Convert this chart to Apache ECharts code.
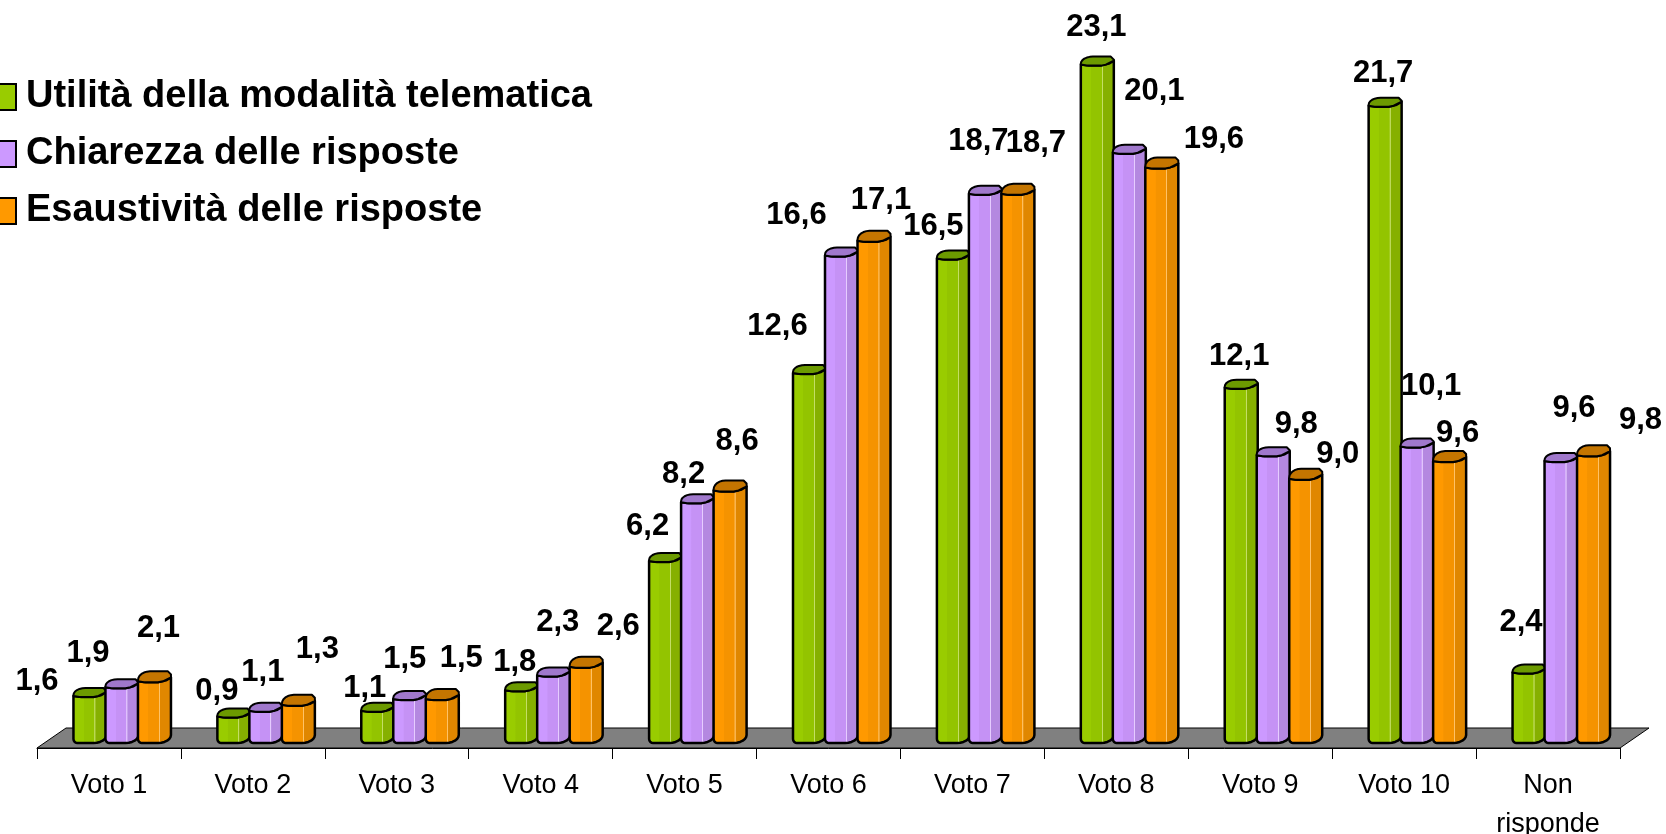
<!DOCTYPE html>
<html><head><meta charset="utf-8">
<style>html,body{margin:0;padding:0;background:#fff}#c{width:1666px;height:834px}</style>
<script src="https://cdn.jsdelivr.net/npm/echarts@6/dist/echarts.min.js"></script>
</head><body><div id="c"></div>
<script>
const categories = ['Voto 1','Voto 2','Voto 3','Voto 4','Voto 5','Voto 6','Voto 7','Voto 8','Voto 9','Voto 10','Non\nrisponde'];
const seriesNames = ['Utilità della modalità telematica','Chiarezza delle risposte','Esaustività delle risposte'];
const utilita    = [1.6,0.9,1.1,1.8,6.2,12.6,16.5,23.1,12.1,21.7,2.4];
const chiarezza  = [1.9,1.1,1.5,2.3,8.2,16.6,18.7,20.1,9.8,10.1,9.6];
const esaustivita= [2.1,1.3,1.5,2.6,8.6,17.1,18.7,19.6,9.0,9.6,9.8];

// label displacement from bar top (pixels), one table per series
const utilitaLabelOffset = [[-53,-15],[-17,-25],[-13,-22],[-7,-28],[-18,-34],[-32,-47],[-20,-32],[-1,-37],[-2,-31],[-2,-32],[-8,-50]];
const chiarezzaLabelOffset = [[-34,-34],[-3,-38],[-5,-40],[4,-53],[-14,-28],[-45,-40],[-7,-52],[25,-61],[23,-31],[14,-60],[13,-53]];
const esaustivitaLabelOffset = [[4,-53],[19,-55],[19,-41],[32,-40],[7,-49],[7,-40],[18,-50],[52,-28],[32,-24],[8,-28],[47,-35]];

const palettes = [
  {base:'#99CC00', mid:'#93C400', light:'#C4DE66', side:'#86B000', top:'#6C9A00'},
  {base:'#CC99FF', mid:'#C592F5', light:'#E6CCFF', side:'#B488E0', top:'#A078CC'},
  {base:'#FF9900', mid:'#F59300', light:'#FFC266', side:'#E08700', top:'#C47500'}
];
const barOffsets = [-19, 13, 45.5];
const barW = 33;
const capHeights = [8, 8, 10];
const floorDepthY = 20, floorDepthX = 29, floorBase = -0.17;

function arc(cx, cy, rx, ry, a0, a1, n){
  const p=[]; for(let i=0;i<=n;i++){const a=(a0+(a1-a0)*i/n)*Math.PI/180; p.push([cx+rx*Math.cos(a), cy+ry*Math.sin(a)]);} return p;
}
function barRender(si, offsets){
  return function(params, api){
    const i = api.value(0), v = api.value(1);
    const top = api.coord([i, v]), bot = api.coord([i, 0]);
    const cx = top[0] + barOffsets[si];
    const x0 = cx - barW/2, x1 = cx + barW/2, yt = top[1], yb = bot[1];
    const pal = palettes[si], h = capHeights[si];
    const body = [[x0,yt]].concat(
      [[x0,yb-4]],
      arc(x0+4,yb-4,4,4,180,90,4),
      [[x1-13,yb]],
      arc(x1-13,yb-8,13,8,90,0,6),
      [[x1,yt-4]],
      [[x1-5,yt-1]],
      [[x1-13,yt+1]],
      [[x0+8,yt+1]]
    );
    const cap = [[x0,yt]].concat(
      arc(x0+12,yt-1,12,h-1,180,270,6),
      [[x1-3,yt-h]],
      [[x1,yt-h+3]],
      [[x1,yt-4]],
      [[x1-8,yt]],
      [[x1-13,yt+1]],
      [[x0+6,yt+1]]
    );
    const grad = new echarts.graphic.LinearGradient(0,0,1,0,[
      {offset:0,color:pal.base},{offset:0.32,color:pal.base},{offset:0.33,color:pal.mid},
      {offset:0.62,color:pal.mid},{offset:0.63,color:pal.light},{offset:0.65,color:pal.light},
      {offset:0.66,color:pal.side},{offset:1,color:pal.side}
    ]);
    const off = offsets[params.dataIndex];
    return {type:'group', children:[
      {type:'polygon', shape:{points:body}, style:{fill:grad, stroke:'#000', lineWidth:2.5, lineJoin:'round'}},
      {type:'polygon', shape:{points:cap}, style:{fill:pal.top, stroke:'#000', lineWidth:2, lineJoin:'round'}},
      {type:'text', z2:10, style:{
        text:v.toFixed(1).replace('.',','), x:cx+off[0], y:yt+off[1],
        align:'center', verticalAlign:'middle',
        font:'bold 31px "Liberation Sans", Arial, sans-serif', fill:'#000'
      }}
    ]};
  };
}
function floorRender(params, api){
  const band = api.size([1,0])[0];
  const a = api.coord([0, floorBase]), b = api.coord([categories.length-1, floorBase]);
  const xl = a[0]-band/2, xr = b[0]+band/2, y = a[1];
  return {type:'polygon', silent:true, shape:{points:[[xl,y],[xl+floorDepthX,y-floorDepthY],[xr+floorDepthX,y-floorDepthY],[xr,y]]},
    style:{fill:'#808080', stroke:'#000', lineWidth:1}};
}
const valueTables=[utilita,chiarezza,esaustivita], offsetTables=[utilitaLabelOffset,chiarezzaLabelOffset,esaustivitaLabelOffset];
const chart = echarts.init(document.getElementById('c'), null, {renderer:'canvas'});
chart.setOption({
  animation:false, backgroundColor:'#fff',
  legend:{
    left:-12, top:78, orient:'vertical', icon:'rect', itemWidth:27, itemHeight:26, itemGap:19, padding:0, selectedMode:false,
    data:seriesNames, textStyle:{fontFamily:'"Liberation Sans", Arial, sans-serif', fontWeight:'bold', fontSize:38, color:'#000', padding:[0,0,0,5]}
  },
  grid:{left:37, right:46, top:0, bottom:86, outerBoundsMode:'none'},
  xAxis:{type:'category', data:categories, boundaryGap:true,
    axisLine:{onZero:false, lineStyle:{color:'#000',width:1}},
    axisTick:{show:true, length:11, lineStyle:{color:'#000'}},
    axisLabel:{margin:18, interval:0, fontFamily:'"Liberation Sans", Arial, sans-serif', fontSize:27, lineHeight:39, color:'#000'}
  },
  yAxis:{type:'value', min:floorBase, max:25.3, show:false, splitLine:{show:false}},
  series:[
    {type:'custom', silent:true, z:1, data:[[0,0]], renderItem:floorRender, clip:false, encode:{x:0,y:1}}
  ].concat(seriesNames.map((n,si)=>({
    name:n, type:'custom', z:2+si, clip:false, renderItem:barRender(si,offsetTables[si]),
    itemStyle:{color:palettes[si].base, borderColor:'#000', borderWidth:2},
    encode:{x:0,y:1},
    data:valueTables[si].map((v,i)=>[i,v])
  })))
});
</script></body></html>
